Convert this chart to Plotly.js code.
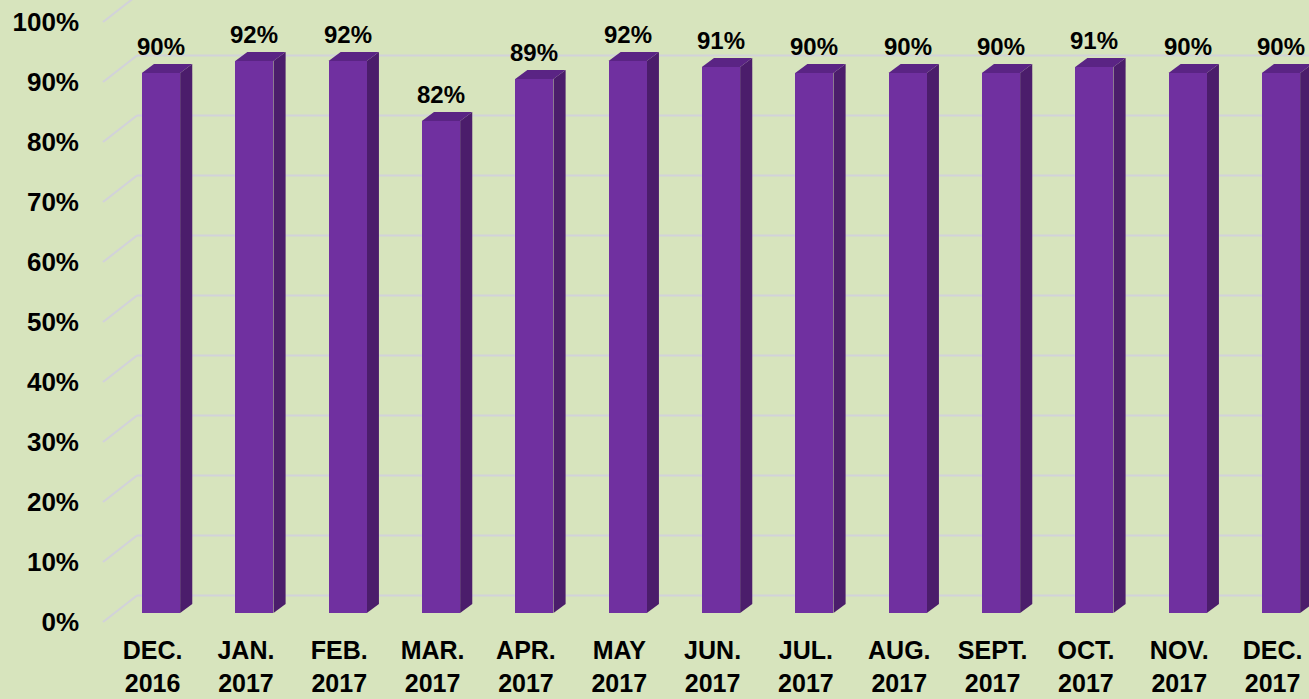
<!DOCTYPE html>
<html>
<head>
<meta charset="utf-8">
<script src="https://cdn.plot.ly/plotly-3.0.1.min.js"></script>
<style>
  html, body { margin: 0; padding: 0; background: #d7e4bd; }
  #chart { width: 1309px; height: 699px; }
</style>
</head>
<body>
<div id="chart"></div>
<script>
// data
const months = ["DEC.<br>2016", "JAN.<br>2017", "FEB.<br>2017", "MAR.<br>2017", "APR.<br>2017", "MAY<br>2017",
                "JUN.<br>2017", "JUL.<br>2017", "AUG.<br>2017", "SEPT.<br>2017", "OCT.<br>2017", "NOV.<br>2017", "DEC.<br>2017"];
const rates = [90, 92, 92, 82, 89, 92, 91, 90, 90, 90, 91, 90, 90];
const yTicks = [0, 10, 20, 30, 40, 50, 60, 70, 80, 90, 100];
const yTickText = yTicks.map(v => v + "%");

// look
const FRONT = "#7030a0", SIDE = "#4b1d6b", TOP = "#5a2484";
const GRID = "#d2d2da";
const FONT = "Liberation Sans, Arial, sans-serif";
const BAR_W = 0.41;
// depth of the 3d effect, in axis units (x: ~93px per unit, y: 6px per unit)
const DX = 0.13, DY = 1.5;
const WALL = 2.92;   // back wall gridlines sit this far above the front plane
const LBL = -1.5;    // tick labels sit this far below it
const LABEL_SHIFT = -0.09; // category labels sit a bit left of the bars
const plotW = 1209;

let xs = months.map((m, i) => i);

let shapes = [];

// back wall grid + slanted side lines
yTicks.forEach(v => {
    shapes.push({
        type: "line", layer: "below", xref: "paper", yref: "y",
        x0: 3 / plotW, x1: 37 / plotW, y0: v + LBL, y1: v + WALL,
        line: { color: GRID, width: 2 }
    });
    shapes.push({
        type: "line", layer: "below", xref: "paper", yref: "y",
        x0: 37 / plotW, x1: 1, y0: v + WALL, y1: v + WALL,
        line: { color: GRID, width: 2 }
    });
});

// side and top faces of each bar
rates.forEach((v, i) => {
    let L = i - BAR_W / 2, R = i + BAR_W / 2;
    shapes.push({
        type: "path", layer: "below", xref: "x", yref: "y",
        path: `M${R},0 L${R + DX},${DY} L${R + DX},${v + DY} L${R},${v} Z`,
        fillcolor: SIDE, line: { width: 0 }
    });
    shapes.push({
        type: "path", layer: "below", xref: "x", yref: "y",
        path: `M${L},${v} L${L + DX},${v + DY} L${R + DX},${v + DY} L${R},${v} Z`,
        fillcolor: TOP, line: { width: 0 }
    });
});

let annotations = rates.map((v, i) => ({
    x: i, y: v, xref: "x", yref: "y",
    yanchor: "bottom", yshift: 11, showarrow: false,
    text: "<b>" + v + "%</b>",
    font: { family: FONT, size: 24, color: "#000" }
}));

let bars = {
    type: "bar",
    x: xs,
    y: rates,
    width: BAR_W,
    marker: { color: FRONT, line: { width: 0 } },
    hoverinfo: "none",
    showlegend: false
};

// empty trace so the label axis gets drawn
let labelAxis = {
    type: "scatter", x: [null], y: [null], yaxis: "y2",
    hoverinfo: "none", showlegend: false
};

let layout = {
    width: 1309,
    height: 699,
    margin: { l: 100, r: 0, t: 0, b: 69 },
    paper_bgcolor: "#d7e4bd",
    plot_bgcolor: "rgba(0,0,0,0)",
    font: { family: FONT, color: "#000" },
    showlegend: false,
    xaxis: {
        type: "linear",
        range: [-0.6536, 12.30],
        tickvals: xs.map(i => i + LABEL_SHIFT),
        ticktext: months.map(m => "<b>" + m + "</b>"),
        tickfont: { family: FONT, size: 25, color: "#000" },
        ticks: "",
        ticklabelstandoff: 3,
        ticklabeloverflow: "allow",
        showgrid: false,
        zeroline: false,
        showline: false,
        fixedrange: true
    },
    yaxis: {
        range: [-2.8333, 102.1667],
        showticklabels: false,
        showgrid: false,
        zeroline: false,
        showline: false,
        fixedrange: true
    },
    yaxis2: {
        overlaying: "y",
        side: "left",
        range: [-1.3333, 103.6667],
        tickvals: yTicks,
        ticktext: yTickText.map(t => "<b>" + t + "</b>"),
        tickfont: { family: FONT, size: 26, color: "#000" },
        ticks: "",
        ticklabelstandoff: 20,
        showgrid: false,
        zeroline: false,
        showline: false,
        fixedrange: true
    },
    shapes: shapes,
    annotations: annotations,
    bargap: 0
};

Plotly.newPlot("chart", [bars, labelAxis], layout, { displayModeBar: false, staticPlot: true });
</script>
</body>
</html>
